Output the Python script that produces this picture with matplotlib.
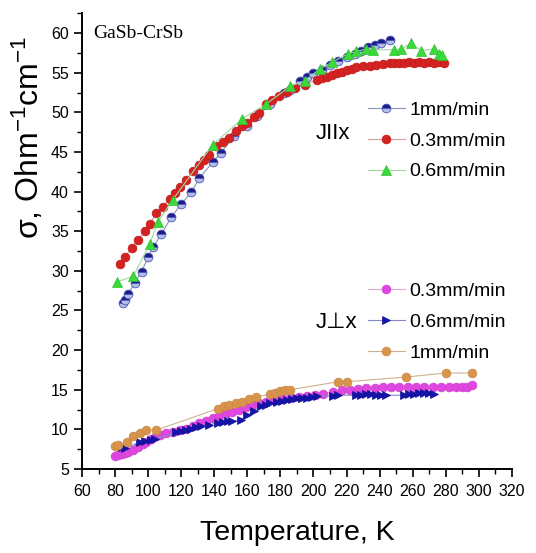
import matplotlib.pyplot as plt
from matplotlib.ticker import MultipleLocator

# ---- J || x ----
t_par_1 = [85, 86, 88, 92, 96, 100, 103, 108, 114, 120, 126, 131, 139, 144, 152, 160, 166,
           174, 182, 186, 192, 196, 200, 205, 210, 215, 220, 225, 229, 233, 237, 241, 246]
s_par_1 = [25.9, 26.3, 27.1, 28.5, 29.9, 31.7, 33.0, 34.6, 36.8, 38.4, 39.9, 41.7, 43.7, 44.9,
           47.0, 48.3, 49.5, 51.0, 52.4, 52.8, 54.0, 54.4, 55.0, 55.4, 56.0, 56.5, 57.0, 57.4,
           57.8, 58.2, 58.5, 58.8, 59.1]

t_par_03 = [83, 86, 90, 94, 98, 101, 105, 109, 113, 116, 119, 123, 127, 131, 134, 137, 141,
            145, 149, 153, 157, 160, 164, 167, 171, 175, 179, 184, 189, 195, 202, 205, 208,
            211, 214, 217, 220, 223, 226, 230, 234, 238, 242, 246, 249, 252, 255, 258, 261,
            264, 267, 270, 273, 276, 279]
s_par_03 = [30.9, 31.7, 32.9, 33.9, 35.0, 35.9, 37.3, 38.1, 39.1, 39.8, 40.6, 41.5, 42.6,
            43.4, 44.0, 44.6, 45.7, 46.3, 46.8, 47.7, 48.3, 48.7, 49.4, 49.9, 51.0, 51.6,
            52.1, 52.6, 53.1, 53.5, 54.1, 54.3, 54.5, 54.7, 54.9, 55.1, 55.3, 55.5, 55.7,
            55.8, 55.9, 56.0, 56.1, 56.2, 56.2, 56.2, 56.2, 56.3, 56.2, 56.3, 56.2, 56.3,
            56.2, 56.3, 56.2]

t_par_06 = [81, 91, 101, 106, 115, 139, 157, 171, 186, 195, 204, 211, 221, 226, 232, 236,
            249, 253, 259, 265, 273, 276, 278]
s_par_06 = [28.6, 29.3, 33.4, 36.2, 39.0, 45.9, 49.2, 51.0, 53.3, 54.0, 55.5, 56.3, 57.4,
            57.7, 58.0, 57.9, 57.9, 58.0, 58.7, 57.8, 58.0, 57.4, 57.2]

# ---- J perp x ----
t_perp_03 = [80, 82, 84, 86, 88, 91, 94, 97, 99, 102, 105, 107, 111, 115, 119, 123, 127, 131,
             135, 139, 143, 147, 151, 155, 159, 163, 167, 171, 176, 181, 186, 191, 196, 201,
             206, 212, 217, 222, 227, 232, 237, 242, 247, 252, 257, 262, 267, 272, 277, 282,
             286, 290, 293, 296]
s_perp_03 = [6.6, 6.7, 6.9, 7.0, 7.2, 7.4, 7.8, 8.1, 8.4, 8.8, 9.1, 9.3, 9.5, 9.7, 9.9,
             10.1, 10.4, 10.8, 11.1, 11.4, 11.7, 12.0, 12.2, 12.4, 12.8, 13.1, 13.3, 13.5,
             13.7, 13.9, 14.0, 14.1, 14.2, 14.3, 14.5, 14.7, 14.9, 15.0, 15.1, 15.2, 15.2,
             15.3, 15.3, 15.3, 15.4, 15.4, 15.3, 15.3, 15.4, 15.3, 15.3, 15.3, 15.4, 15.6]

t_perp_06 = [84, 86, 95, 98, 102, 104, 117, 120, 123, 126, 129, 132, 137, 142, 145, 148,
             151, 156, 160, 164, 168, 171, 174, 178, 181, 184, 187, 190, 193, 196, 199, 202,
             212, 215, 226, 229, 232, 235, 238, 241, 244, 255, 258, 261, 264, 267, 270, 273]
s_perp_06 = [7.8, 7.6, 8.4, 8.5, 8.7, 8.8, 9.6, 9.8, 9.9, 10.1, 10.3, 10.4, 10.6, 10.8,
             10.9, 11.0, 11.0, 11.2, 11.8, 12.3, 13.0, 13.1, 13.3, 13.4, 13.6, 13.7, 13.8,
             13.9, 14.0, 14.0, 14.1, 14.2, 14.2, 14.3, 14.3, 14.3, 14.4, 14.4, 14.3, 14.3,
             14.3, 14.3, 14.4, 14.5, 14.6, 14.6, 14.6, 14.5]

t_perp_1 = [80, 82, 87, 91, 95, 99, 105, 142, 146, 149, 153, 157, 161, 165, 174, 177, 180,
            183, 186, 215, 220, 256, 280, 296]
s_perp_1 = [7.9, 8.0, 8.4, 9.1, 9.5, 9.9, 9.9, 12.6, 12.9, 13.1, 13.3, 13.5, 13.8, 14.1,
            14.4, 14.6, 14.8, 14.9, 15.0, 16.0, 16.0, 16.6, 17.1, 17.1]

plt.rcParams['font.family'] = ['Liberation Sans', 'DejaVu Sans']
plt.rcParams['mathtext.default'] = 'regular'

fig = plt.figure(figsize=(5.36, 5.53), dpi=100)
ax = fig.add_axes([0.153, 0.152, 0.802, 0.824])

ms = 6.3
# J || x
l1, = ax.plot(t_par_1, s_par_1, '-', color='#8a94b8', lw=0.8, marker='o', ms=ms,
              fillstyle='top', markerfacecolor='#1c1c8a', markerfacecoloralt='#b4bcec',
              markeredgecolor='#4a56b0', markeredgewidth=0.6, label='1mm/min')
l2, = ax.plot(t_par_03, s_par_03, '-', color='#d8a0a0', lw=0.8, marker='o', ms=ms,
              markerfacecolor='#d42222', markeredgecolor='#c01a1a', markeredgewidth=0.5,
              label='0.3mm/min')
l3, = ax.plot(t_par_06, s_par_06, '-', color='#a0d8a0', lw=0.8, marker='^', ms=ms + 0.5,
              markerfacecolor='#3ada3a', markeredgecolor='#30c030', markeredgewidth=0.5,
              label='0.6mm/min')

# J perp x
l4, = ax.plot(t_perp_03, s_perp_03, '-', color='#dca8dc', lw=0.8, marker='o', ms=ms,
              markerfacecolor='#e046e0', markeredgecolor='#d040d0', markeredgewidth=0.5,
              label='0.3mm/min')
l5, = ax.plot(t_perp_06, s_perp_06, '-', color='#8888c8', lw=0.8, marker='>', ms=ms,
              markerfacecolor='#1414a8', markeredgecolor='#10109a', markeredgewidth=0.5,
              label='0.6mm/min')
l6, = ax.plot(t_perp_1, s_perp_1, '-', color='#d0b090', lw=0.8, marker='o', ms=ms,
              markerfacecolor='#d8944c', markeredgecolor='#c88840', markeredgewidth=0.5,
              label='1mm/min')

leg_kw = dict(loc='upper left', frameon=False, fontsize=14, handlelength=1.9,
              handletextpad=0.25, labelspacing=0.68, borderpad=0, borderaxespad=0)
leg1 = ax.legend(handles=[l1, l2, l3], bbox_to_anchor=(0.665, 0.807), **leg_kw)
ax.add_artist(leg1)
ax.legend(handles=[l4, l5, l6], bbox_to_anchor=(0.665, 0.409), **leg_kw)

ax.text(0.544, 0.737, 'JIIx', transform=ax.transAxes, fontsize=16, va='center')
ax.text(0.544, 0.322, 'J\u22a5x', transform=ax.transAxes, fontsize=16, va='center')
ax.text(0.026, 0.955, 'GaSb-CrSb', transform=ax.transAxes, fontsize=14,
        family='Liberation Serif', va='center')

ax.set_xlim(60, 320)
ax.set_ylim(5, 62.5)
ax.xaxis.set_major_locator(MultipleLocator(20))
ax.xaxis.set_minor_locator(MultipleLocator(10))
ax.yaxis.set_minor_locator(MultipleLocator(2.5))
ax.set_yticks([5, 10, 15, 20, 25, 30, 35, 40, 45, 50, 55, 60])
ax.tick_params(which='major', length=6, width=1.2, labelsize=11.5)
ax.tick_params(axis='x', which='major', pad=5)
ax.tick_params(which='minor', length=3.5, width=1.0)
for side in ['top', 'right']:
    ax.spines[side].set_visible(False)
for side in ['left', 'bottom']:
    ax.spines[side].set_linewidth(1.4)

ax.set_xlabel('Temperature, K', fontsize=20.5)
ax.xaxis.set_label_coords(0.5, -0.113)
ax.set_ylabel('σ, Ohm$^{-1}$cm$^{-1}$', fontsize=23)
ax.yaxis.set_label_coords(-0.083, 0.728)

fig.savefig('out.png', dpi=100)
